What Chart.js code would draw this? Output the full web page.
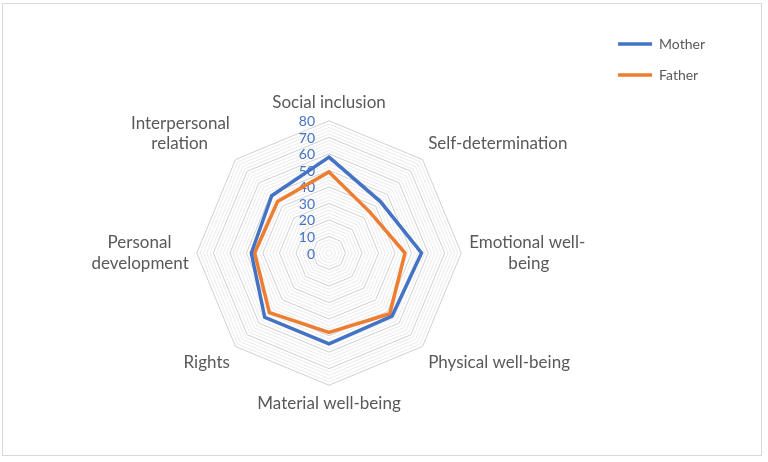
<!DOCTYPE html>
<html>
<head>
<meta charset="utf-8">
<script src="https://cdn.jsdelivr.net/npm/chart.js@4"></script>
<style>
  body { margin: 0; background: #fff; }
  #wrap { width: 768px; height: 462px; }
</style>
</head>
<body>
<div id="wrap"><canvas id="radarChart"></canvas></div>
<script>
const categories = [
    'Social inclusion',
    'Self-determination',
    ['Emotional well-', 'being'],
    'Physical well-being',
    'Material well-being',
    'Rights',
    ['Personal', 'development'],
    ['Interpersonal', 'relation']
];
const motherValues = [58, 44, 56, 54, 55, 55, 47, 49];
const fatherValues = [49, 35, 46, 52, 48, 51, 45, 44];
const tickLabels = ['0', '10', '20', '30', '40', '50', '60', '70', '80'];

const labelFont = '17px Lato';

// Excel centres wrapped category names; Chart.js aligns them to one side,
// so pad the shorter line with spaces until it sits in the middle.
function centreLines(lines, side) {
    if (!Array.isArray(lines)) return lines;
    const ctx = document.createElement('canvas').getContext('2d');
    ctx.font = labelFont;
    const widest = Math.max(...lines.map(l => ctx.measureText(l).width));
    const sp = ctx.measureText(' ').width;
    return lines.map(l => {
        const n = Math.round((widest - ctx.measureText(l).width) / 2 / sp);
        if (n <= 0) return l;
        return side === 'left' ? l + ' '.repeat(n) : ' '.repeat(n) + l;
    });
}
const chartLabels = categories.map((c, i) => centreLines(c, i > 4 ? 'left' : 'right'));

const frame = {
    id: 'frame',
    beforeDraw(chart) {
        const ctx = chart.ctx;
        ctx.save();
        ctx.fillStyle = '#ffffff';
        ctx.fillRect(0, 0, chart.width, chart.height);
        ctx.strokeStyle = '#d9d9d9';
        ctx.lineWidth = 1;
        ctx.strokeRect(2.5, 3.5, 759, 452);
        ctx.restore();
    }
};

// value labels sit just left of the vertical axis, like the original
const tickText = {
    id: 'tickText',
    beforeDatasetsDraw(chart) {
        const scale = chart.scales.r;
        const ctx = chart.ctx;
        ctx.save();
        ctx.font = '14px Lato';
        ctx.fillStyle = '#4472c4';
        ctx.textAlign = 'right';
        ctx.textBaseline = 'middle';
        tickLabels.forEach(t => {
            const d = scale.getDistanceFromCenterForValue(Number(t));
            ctx.fillText(t, scale.xCenter - 14, scale.yCenter - d + 1);
        });
        ctx.restore();
    }
};

new Chart(document.getElementById('radarChart'), {
    type: 'radar',
    data: {
        labels: chartLabels,
        datasets: [{
            label: 'Mother',
            data: motherValues,
            borderColor: '#4472c4',
            backgroundColor: '#4472c4',
            borderWidth: 3.5,
            fill: false,
            pointRadius: 0
        }, {
            label: 'Father',
            data: fatherValues,
            borderColor: '#ed7d31',
            backgroundColor: '#ed7d31',
            borderWidth: 3.5,
            fill: false,
            pointRadius: 0
        }]
    },
    options: {
        responsive: true,
        maintainAspectRatio: false,
        animation: false,
        layout: { padding: { top: 20, bottom: 47, left: 77, right: 53 } },
        scales: {
            r: {
                min: 0,
                max: 80,
                ticks: { stepSize: 2, display: false },
                grid: {
                    color: c => (c.tick && c.tick.value % 10 === 0) ? '#d0d0d0' : '#ebebeb',
                    lineWidth: 1
                },
                angleLines: { display: false },
                pointLabels: {
                    color: '#595959',
                    font: { family: 'Lato', size: 17 },
                    padding: 8
                }
            }
        },
        plugins: {
            title: { display: true, text: '', font: { size: 12 }, padding: { top: 58, bottom: 0 } },
            legend: {
                position: 'right',
                align: 'start',
                fullSize: true,
                labels: {
                    usePointStyle: true,
                    pointStyle: 'line',
                    pointStyleWidth: 34,
                    padding: 17,
                    color: '#595959',
                    font: { family: 'Lato', size: 14 }
                }
            },
            tooltip: { enabled: false }
        }
    },
    plugins: [frame, tickText]
});
</script>
</body>
</html>
